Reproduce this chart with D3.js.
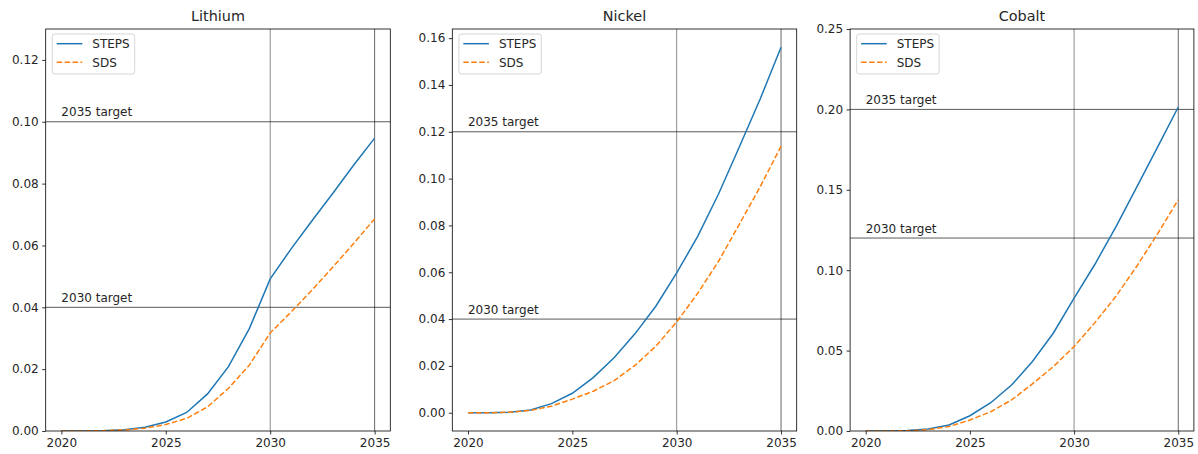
<!DOCTYPE html>
<html>
<head>
<meta charset="utf-8">
<script src="https://cdn.jsdelivr.net/npm/d3@7"></script>
<style>
  body { margin: 0; background: #fff; }
  svg { display: block; }
  text { font-family: "DejaVu Sans", sans-serif; }
</style>
</head>
<body>
<svg id="chart" width="1198" height="454"></svg>
<script>
// ---- data ----
const years = [2020, 2021, 2022, 2023, 2024, 2025, 2026, 2027, 2028, 2029, 2030, 2031, 2032, 2033, 2034, 2035];

const lithiumSTEPS = [0, 0, 0.0001, 0.0004, 0.0012, 0.0029, 0.0060, 0.0120, 0.0208, 0.0331, 0.0492, 0.0589, 0.0680, 0.0769, 0.0860, 0.0947];
const lithiumSDS   = [0, 0, 0.0001, 0.0003, 0.0009, 0.0021, 0.0041, 0.0078, 0.0138, 0.0213, 0.0317, 0.0385, 0.0456, 0.0530, 0.0607, 0.0686];

const nickelSTEPS = [0, 0, 0.0002, 0.0012, 0.0039, 0.0083, 0.0150, 0.0235, 0.0337, 0.0455, 0.0597, 0.0752, 0.0933, 0.1135, 0.1340, 0.1561];
const nickelSDS   = [0, 0, 0.0002, 0.0010, 0.0028, 0.0058, 0.0092, 0.0137, 0.0202, 0.0284, 0.0388, 0.0509, 0.0646, 0.0805, 0.0965, 0.1138];

const cobaltSTEPS = [0, 0, 0.0003, 0.0012, 0.0037, 0.0095, 0.0176, 0.0286, 0.0432, 0.0608, 0.0826, 0.1037, 0.1268, 0.1515, 0.1764, 0.2015];
const cobaltSDS   = [0, 0, 0.0002, 0.0008, 0.0028, 0.0068, 0.0120, 0.0193, 0.0293, 0.0400, 0.0525, 0.0674, 0.0836, 0.1023, 0.1225, 0.1438];

const titles = ["Lithium", "Nickel", "Cobalt"];
const target2030 = [0.04, 0.04, 0.12];
const target2035 = [0.10, 0.12, 0.20];
const seriesNames = ["STEPS", "SDS"];
const xTicks = [2020, 2025, 2030, 2035];
const vYears = [2030, 2035];
const lithiumTicks = [0, 0.02, 0.04, 0.06, 0.08, 0.10, 0.12];
const nickelTicks = [0, 0.02, 0.04, 0.06, 0.08, 0.10, 0.12, 0.14, 0.16];
const cobaltTicks = [0, 0.05, 0.10, 0.15, 0.20, 0.25];
const lithiumYLim = [0, 0.13];
const cobaltYLim = [0, 0.25];

// ---- layout ----
const panels = [
  { left: 45.7, right: 390.3, steps: lithiumSTEPS, sds: lithiumSDS, ticks: lithiumTicks, ylim: lithiumYLim },
  { left: 452.3, right: 796.7, steps: nickelSTEPS, sds: nickelSDS, ticks: nickelTicks, ylim: null },
  { left: 850.1, right: 1193.9, steps: cobaltSTEPS, sds: cobaltSDS, ticks: cobaltTicks, ylim: cobaltYLim }
];
const plotTop = 29, plotBottom = 431;
const colors = ["#1f77b4", "#ff7f0e"];
const textColor = "#262626";

const svg = d3.select("#chart");

panels.forEach((p, i) => {
  let ydom = p.ylim;
  if (!ydom) {
    const all = p.steps.concat(p.sds);
    const mn = d3.min(all), mx = d3.max(all);
    const m = (mx - mn) * 0.05;
    ydom = [mn - m, mx + m];
  }
  const x = d3.scaleLinear().domain([2019.25, 2035.75]).range([p.left, p.right]);
  const y = d3.scaleLinear().domain(ydom).range([plotBottom, plotTop]);

  const g = svg.append("g");

  const clipId = "clip" + i;
  svg.append("clipPath").attr("id", clipId)
    .append("rect").attr("x", p.left).attr("y", plotTop)
    .attr("width", p.right - p.left).attr("height", plotBottom - plotTop);

  const plot = g.append("g").attr("clip-path", `url(#${clipId})`);

  vYears.forEach((yr, k) => {
    plot.append("line")
      .attr("x1", x(yr)).attr("x2", x(yr))
      .attr("y1", plotTop).attr("y2", plotBottom)
      .attr("stroke", "#000").attr("stroke-width", 1)
      .attr("stroke-opacity", k === 0 ? 0.45 : 0.6);
  });

  [target2030[i], target2035[i]].forEach(t => {
    plot.append("line")
      .attr("x1", p.left).attr("x2", p.right)
      .attr("y1", y(t)).attr("y2", y(t))
      .attr("stroke", "#000").attr("stroke-width", 1)
      .attr("stroke-opacity", 0.65);
  });

  [["2030 target", target2030[i]], ["2035 target", target2035[i]]].forEach(([lab, t]) => {
    g.append("text")
      .attr("x", x(2020)).attr("y", y(t) - 5.5)
      .attr("font-size", 12).attr("fill", textColor)
      .text(lab);
  });

  const line = d3.line().x((d, k) => x(years[k])).y(d => y(d));

  plot.append("path").datum(p.steps)
    .attr("d", line).attr("fill", "none")
    .attr("stroke", colors[0]).attr("stroke-width", 1.5);
  plot.append("path").datum(p.sds)
    .attr("d", line).attr("fill", "none")
    .attr("stroke", colors[1]).attr("stroke-width", 1.5)
    .attr("stroke-dasharray", "5.55,2.4");

  const xAxis = d3.axisBottom(x).tickValues(xTicks).tickFormat(d3.format("d")).tickSize(3.5).tickPadding(3.5);
  const yAxis = d3.axisLeft(y).tickValues(p.ticks).tickFormat(d3.format(".2f")).tickSize(3.5).tickPadding(3.5);

  const gx = g.append("g").attr("transform", `translate(0,${plotBottom})`).call(xAxis);
  const gy = g.append("g").attr("transform", `translate(${p.left},0)`).call(yAxis);
  [gx, gy].forEach(a => {
    a.select(".domain").remove();
    a.selectAll(".tick line").attr("stroke", "#000").attr("stroke-width", 0.8);
    a.selectAll(".tick text").attr("font-size", 12).attr("fill", textColor)
      .attr("font-family", "DejaVu Sans, sans-serif");
  });

  g.append("rect")
    .attr("x", p.left).attr("y", plotTop)
    .attr("width", p.right - p.left).attr("height", plotBottom - plotTop)
    .attr("fill", "none").attr("stroke", "#000").attr("stroke-width", 0.8);

  g.append("text")
    .attr("x", (p.left + p.right) / 2).attr("y", 21)
    .attr("text-anchor", "middle").attr("font-size", 14.4).attr("fill", textColor)
    .text(titles[i]);

  const lg = g.append("g").attr("transform", `translate(${p.left + 6.6},${plotTop + 5})`);
  lg.append("rect").attr("x", 0).attr("y", 0).attr("width", 82.4).attr("height", 40)
    .attr("rx", 2.5).attr("fill", "#fff").attr("fill-opacity", 0.8)
    .attr("stroke", "#cccccc").attr("stroke-width", 0.8);
  seriesNames.forEach((nm, k) => {
    const yy = 9.7 + k * 18.6;
    lg.append("line").attr("x1", 4.4).attr("x2", 30).attr("y1", yy).attr("y2", yy)
      .attr("stroke", colors[k]).attr("stroke-width", 1.5)
      .attr("stroke-dasharray", k === 1 ? "5.55,2.4" : null);
    lg.append("text").attr("x", 40).attr("y", yy + 4.3)
      .attr("font-size", 12).attr("fill", textColor).text(nm);
  });
});
</script>
</body>
</html>
